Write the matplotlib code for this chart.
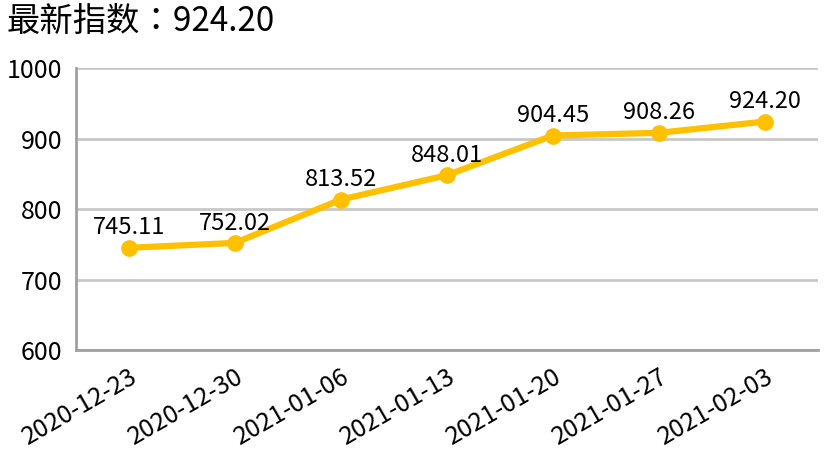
import matplotlib.pyplot as plt

plt.rcParams['font.family'] = ['Noto Sans CJK SC', 'DejaVu Sans']

dates = ['2020-12-23', '2020-12-30', '2021-01-06', '2021-01-13',
         '2021-01-20', '2021-01-27', '2021-02-03']
values = [745.11, 752.02, 813.52, 848.01, 904.45, 908.26, 924.20]
latest = values[-1]

fig = plt.figure(figsize=(8.26, 4.67), dpi=100)
ax = fig.add_axes([0.092, 0.2505, 0.898, 0.6035])

x = list(range(len(dates)))
ax.plot(x, values, color='#FFC000', lw=4.5, marker='o', ms=11, zorder=3,
        solid_capstyle='round')

for xi, v in zip(x, values):
    ax.annotate(f'{v:.2f}', (xi, v), xytext=(0, 6), textcoords='offset points',
                ha='center', va='bottom', fontsize=17, color='black', zorder=4)

ax.set_xlim(-0.5, len(dates) - 0.5)
ax.set_ylim(600, 1000)
ax.set_yticks([600, 700, 800, 900, 1000])
ax.set_xticks(x)
ax.set_xticklabels(dates, rotation=30, ha='right', rotation_mode='anchor')
ax.tick_params(axis='both', length=0, colors='black')
ax.tick_params(axis='y', pad=10, labelsize=18)
ax.tick_params(axis='x', pad=10, labelsize=18)

ax.grid(axis='y', color='#C8C8C8', lw=2)
ax.set_axisbelow(True)
for side in ['top', 'right']:
    ax.spines[side].set_visible(False)
for side in ['left', 'bottom']:
    ax.spines[side].set_color('#A0A0A0')
    ax.spines[side].set_linewidth(2)

fig.text(0.008, 0.953, f'最新指数：{latest:.2f}', fontsize=24, ha='left', va='center',
         family=['Noto Sans CJK TC', 'DejaVu Sans'], weight='medium')

fig.savefig('out.png', dpi=100)
